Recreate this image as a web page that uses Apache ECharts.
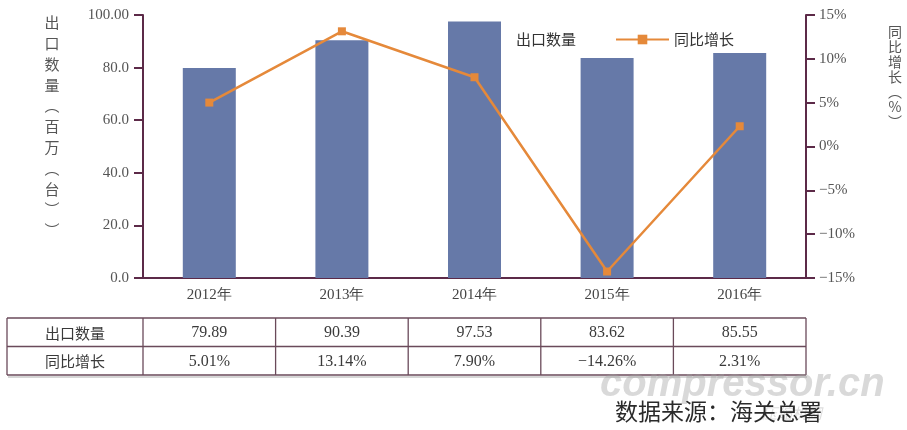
<!DOCTYPE html>
<html>
<head>
<meta charset="utf-8">
<script src="https://cdn.jsdelivr.net/npm/echarts@6/dist/echarts.min.js"></script>
<style>html,body{margin:0;padding:0;background:#fff;}#c{width:907px;height:430px;}</style>
</head>
<body>
<div id="c"></div>
<script>
var years = ['2012年', '2013年', '2014年', '2015年', '2016年'];
var exportQty = [79.89, 90.39, 97.53, 83.62, 85.55];
var growth = [5.01, 13.14, 7.90, -14.26, 2.31];
var leftTicks = ['0.0', '20.0', '40.0', '60.0', '80.0', '100.00'];
var rightTicks = ['−15%', '−10%', '−5%', '0%', '5%', '10%', '15%'];
var qtyName = '出口数量';
var growthName = '同比增长';
var leftAxisTitle = ['出', '口', '数', '量', '︵', '百', '万', '︵', '台', '︶', '︶'];
var rightAxisTitle = ['同', '比', '增', '长', '︵', '%', '︶'];
var sourceText = '数据来源：海关总署';

var axisColor = '#5c2a48';
var serif = '"Liberation Serif", "DejaVu Serif", serif';
var cjk = '"Noto Sans CJK SC", sans-serif';

var chart = echarts.init(document.getElementById('c'));

var gLeft = 143, gRight = 806, tLeft = 7, tTop = 318, rowH = 28.5;
var colW = (gRight - gLeft) / years.length;
var g = [];
var tLine = {stroke: '#6a4a5a', lineWidth: 1.3};
var xs = [tLeft, gLeft];
for (var i = 1; i <= years.length; i++) xs.push(gLeft + colW * i);
for (var r = 0; r <= 2; r++) {
  g.push({type: 'line', shape: {x1: tLeft, y1: tTop + r * rowH, x2: gRight, y2: tTop + r * rowH}, style: tLine, silent: true});
}
xs.forEach(function (x) {
  g.push({type: 'line', shape: {x1: x, y1: tTop, x2: x, y2: tTop + 2 * rowH}, style: tLine, silent: true});
});
g.push({type: 'line', shape: {x1: tLeft + 1, y1: tTop + 2 * rowH + 2, x2: gRight + 1, y2: tTop + 2 * rowH + 2}, style: {stroke: '#d6d6d6', lineWidth: 2}, silent: true});
var rows = [
  [qtyName].concat(exportQty.map(function (v) { return v.toFixed(2); })),
  [growthName].concat(growth.map(function (v) { return (v < 0 ? '−' + Math.abs(v).toFixed(2) : v.toFixed(2)) + '%'; }))
];
rows.forEach(function (row, ri) {
  row.forEach(function (txt, ci) {
    var cx = (xs[ci] + xs[ci + 1]) / 2;
    g.push({type: 'text', x: cx, y: tTop + ri * rowH + rowH / 2 + 1, silent: true,
      style: {text: txt, align: 'center', verticalAlign: 'middle', fill: '#3a3a3a',
        font: (ci === 0 ? '15px ' + cjk : '16px ' + serif)}});
  });
});
g.push({type: 'text', x: 52, y: 12, silent: true,
  style: {text: leftAxisTitle.join('\n'), align: 'center', verticalAlign: 'top', lineHeight: 20.8, fill: '#555', font: '15px ' + cjk}});
g.push({type: 'text', x: 895, y: 24, silent: true,
  style: {text: rightAxisTitle.join('\n'), align: 'center', verticalAlign: 'top', lineHeight: 15, fill: '#555', font: '14px ' + cjk}});
g.push({type: 'text', x: 600, y: 385, silent: true,
  style: {text: 'compressor.cn', align: 'left', verticalAlign: 'middle', fill: 'rgba(160,160,160,0.4)', font: 'italic bold 40px "Liberation Sans Narrow", "Liberation Sans", sans-serif'}});
g.push({type: 'text', x: 762, y: 413, silent: true,
  style: {text: '压缩机网', align: 'left', verticalAlign: 'middle', fill: 'rgba(170,170,170,0.4)', font: 'italic 15px ' + cjk}});
g.push({type: 'text', x: 822, y: 411, silent: true,
  style: {text: sourceText, align: 'right', verticalAlign: 'middle', fill: '#2a2a2a', font: '23px ' + cjk}});

chart.setOption({
  animation: false,
  backgroundColor: '#fff',
  grid: {left: gLeft, right: 907 - gRight, top: 15, bottom: 430 - 278, containLabel: false},
  legend: [
    {
      left: 496, top: 27, itemWidth: 10, itemHeight: 12,
      textStyle: {fontFamily: cjk, fontSize: 15, color: '#333'},
      data: [{name: qtyName, icon: 'rect', itemStyle: {opacity: 0}}]
    },
    {
      left: 610, top: 27, itemWidth: 53, itemHeight: 12, itemGap: 6,
      textStyle: {fontFamily: cjk, fontSize: 15, color: '#333'},
      data: [{name: growthName}]
    }
  ],
  xAxis: {
    type: 'category', data: years,
    axisLine: {lineStyle: {color: axisColor, width: 2}},
    axisTick: {alignWithLabel: true, length: 5, lineStyle: {color: axisColor, width: 2}},
    axisLabel: {fontFamily: serif, fontSize: 15, color: '#444', margin: 10}
  },
  yAxis: [
    {
      type: 'value', min: 0, max: 100, interval: 20,
      splitLine: {show: false},
      axisLine: {show: true, lineStyle: {color: axisColor, width: 2}},
      axisTick: {show: true, length: 9, lineStyle: {color: axisColor, width: 2}},
      axisLabel: {fontFamily: serif, fontSize: 15, color: '#555', margin: 14,
        formatter: function (v) { return leftTicks[Math.round(v / 20)]; }}
    },
    {
      type: 'value', min: -15, max: 15, interval: 5, position: 'right',
      splitLine: {show: false},
      axisLine: {show: true, lineStyle: {color: axisColor, width: 2}},
      axisTick: {show: true, length: 9, lineStyle: {color: axisColor, width: 2}},
      axisLabel: {fontFamily: serif, fontSize: 15, color: '#555', margin: 13,
        formatter: function (v) { return rightTicks[Math.round((v + 15) / 5)]; }}
    }
  ],
  series: [
    {
      name: qtyName, type: 'bar', data: exportQty, barWidth: 53,
      itemStyle: {color: '#6679a8'}, z: 2
    },
    {
      name: growthName, type: 'line', yAxisIndex: 1, data: growth,
      symbol: 'rect', symbolSize: 8,
      lineStyle: {color: '#e5893a', width: 2.5},
      itemStyle: {color: '#e5893a'}, z: 3
    }
  ],
  graphic: g
});
</script>
</body>
</html>
